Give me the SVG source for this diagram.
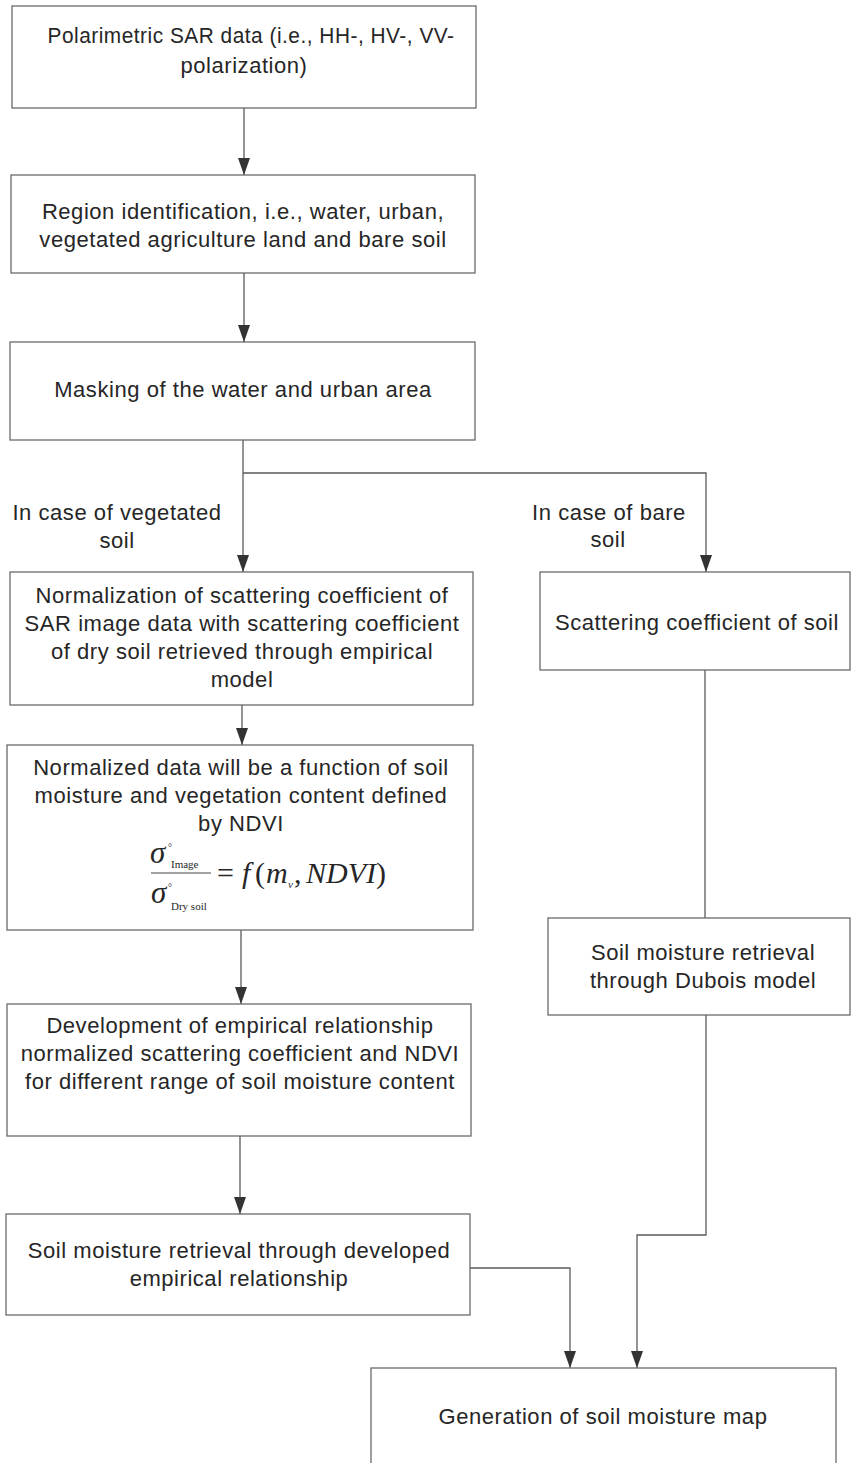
<svg xmlns="http://www.w3.org/2000/svg" width="851" height="1463" viewBox="0 0 851 1463">
  <style>
    .box { fill: #ffffff; stroke: #6a6a6a; stroke-width: 1.3; }
    .lbl { font-family: "Liberation Sans", Arial, sans-serif; font-size: 22px; letter-spacing: 0.55px; fill: #262626; text-anchor: middle; }
    .wire { fill: none; stroke: #5a5a5a; stroke-width: 1.3; }
    .math { font-family: "Liberation Serif", "Times New Roman", serif; fill: #262626; }
    .it { font-style: italic; }
  </style>
  <defs>
    <marker id="head" markerUnits="userSpaceOnUse" markerWidth="18" markerHeight="13" refX="17" refY="6" orient="auto">
      <path d="M0,0 L17,6 L0,12 Z" fill="#333333"/>
    </marker>
  </defs>
  <rect width="851" height="1463" fill="#ffffff"/>

  <!-- connectors -->
  <g id="connectors">
    <line class="wire" x1="244" y1="108" x2="244" y2="175" marker-end="url(#head)"/>
    <line class="wire" x1="244" y1="273" x2="244" y2="342" marker-end="url(#head)"/>
    <line class="wire" x1="243" y1="440" x2="243" y2="572" marker-end="url(#head)"/>
    <polyline class="wire" points="243,473 706,473 706,572" marker-end="url(#head)"/>
    <line class="wire" x1="242" y1="705" x2="242" y2="745" marker-end="url(#head)"/>
    <line class="wire" x1="241" y1="930" x2="241" y2="1004" marker-end="url(#head)"/>
    <line class="wire" x1="240" y1="1136" x2="240" y2="1214" marker-end="url(#head)"/>
    <line class="wire" x1="705" y1="670" x2="705" y2="918"/>
    <polyline class="wire" points="470,1268 570,1268 570,1368" marker-end="url(#head)"/>
    <polyline class="wire" points="706,1015 706,1235 637,1235 637,1368" marker-end="url(#head)"/>
  </g>

  <!-- branch labels -->
  <g id="label-vegetated">
    <text class="lbl" x="117" y="520">In case of vegetated</text>
    <text class="lbl" x="117" y="548">soil</text>
  </g>
  <g id="label-bare">
    <text class="lbl" x="609" y="520">In case of bare</text>
    <text class="lbl" x="608" y="547">soil</text>
  </g>

  <g id="sar-data">
    <rect class="box" x="12" y="6" width="464" height="102"/>
    <text class="lbl" x="251" y="43" textLength="407" lengthAdjust="spacingAndGlyphs">Polarimetric SAR data (i.e., HH-, HV-, VV-</text>
    <text class="lbl" x="244" y="73">polarization)</text>
  </g>

  <g id="region-identification">
    <rect class="box" x="11" y="175" width="464" height="98"/>
    <text class="lbl" x="243" y="219">Region identification, i.e., water, urban,</text>
    <text class="lbl" x="243" y="247">vegetated agriculture land and bare soil</text>
  </g>

  <g id="masking">
    <rect class="box" x="10" y="342" width="465" height="98"/>
    <text class="lbl" x="243" y="397">Masking of the water and urban area</text>
  </g>

  <g id="normalization">
    <rect class="box" x="10" y="572" width="463" height="133"/>
    <text class="lbl" x="242" y="603">Normalization of scattering coefficient of</text>
    <text class="lbl" x="242" y="631">SAR image data with scattering coefficient</text>
    <text class="lbl" x="242" y="659">of dry soil retrieved through empirical</text>
    <text class="lbl" x="242" y="687">model</text>
  </g>

  <g id="normalized-function">
    <rect class="box" x="7" y="745" width="466" height="185"/>
    <text class="lbl" x="241" y="775">Normalized data will be a function of soil</text>
    <text class="lbl" x="241" y="803">moisture and vegetation content defined</text>
    <text class="lbl" x="241" y="831">by NDVI</text>
    <!-- ratio of image backscatter to dry-soil backscatter -->
    <text class="math it" x="150" y="863" font-size="31">σ</text>
    <text class="math" x="168" y="851" font-size="10">°</text>
    <text class="math" x="171" y="868" font-size="11">Image</text>
    <line x1="151" y1="873" x2="211" y2="873" stroke="#444444" stroke-width="1"/>
    <text class="math it" x="151" y="903" font-size="31">σ</text>
    <text class="math" x="168" y="891" font-size="10">°</text>
    <text class="math" x="171" y="910" font-size="11">Dry soil</text>
    <text class="math" x="217" y="883" font-size="30">=</text>
    <text class="math it" x="242" y="883" font-size="30">f</text>
    <text class="math" x="255" y="883" font-size="30">(</text>
    <text class="math it" x="266" y="883" font-size="30">m</text>
    <text class="math it" x="288" y="888" font-size="11">v</text>
    <text class="math" x="294" y="883" font-size="30">,</text>
    <text class="math it" x="306" y="883" font-size="30">NDVI</text>
    <text class="math" x="376" y="883" font-size="30">)</text>
  </g>

  <g id="empirical-relationship">
    <rect class="box" x="7" y="1004" width="464" height="132"/>
    <text class="lbl" x="240" y="1033">Development of empirical relationship</text>
    <text class="lbl" x="240" y="1061">normalized scattering coefficient and NDVI</text>
    <text class="lbl" x="240" y="1089">for different range of soil moisture content</text>
  </g>

  <g id="retrieval-empirical">
    <rect class="box" x="6" y="1214" width="464" height="101"/>
    <text class="lbl" x="239" y="1258">Soil moisture retrieval through developed</text>
    <text class="lbl" x="239" y="1286">empirical relationship</text>
  </g>

  <g id="scattering-soil">
    <rect class="box" x="540" y="572" width="310" height="98"/>
    <text class="lbl" x="697" y="630">Scattering coefficient of soil</text>
  </g>

  <g id="retrieval-dubois">
    <rect class="box" x="548" y="918" width="302" height="97"/>
    <text class="lbl" x="703" y="960">Soil moisture retrieval</text>
    <text class="lbl" x="703" y="988">through Dubois model</text>
  </g>

  <g id="moisture-map">
    <rect class="box" x="371" y="1368" width="465" height="110"/>
    <text class="lbl" x="603" y="1424">Generation of soil moisture map</text>
  </g>
</svg>
